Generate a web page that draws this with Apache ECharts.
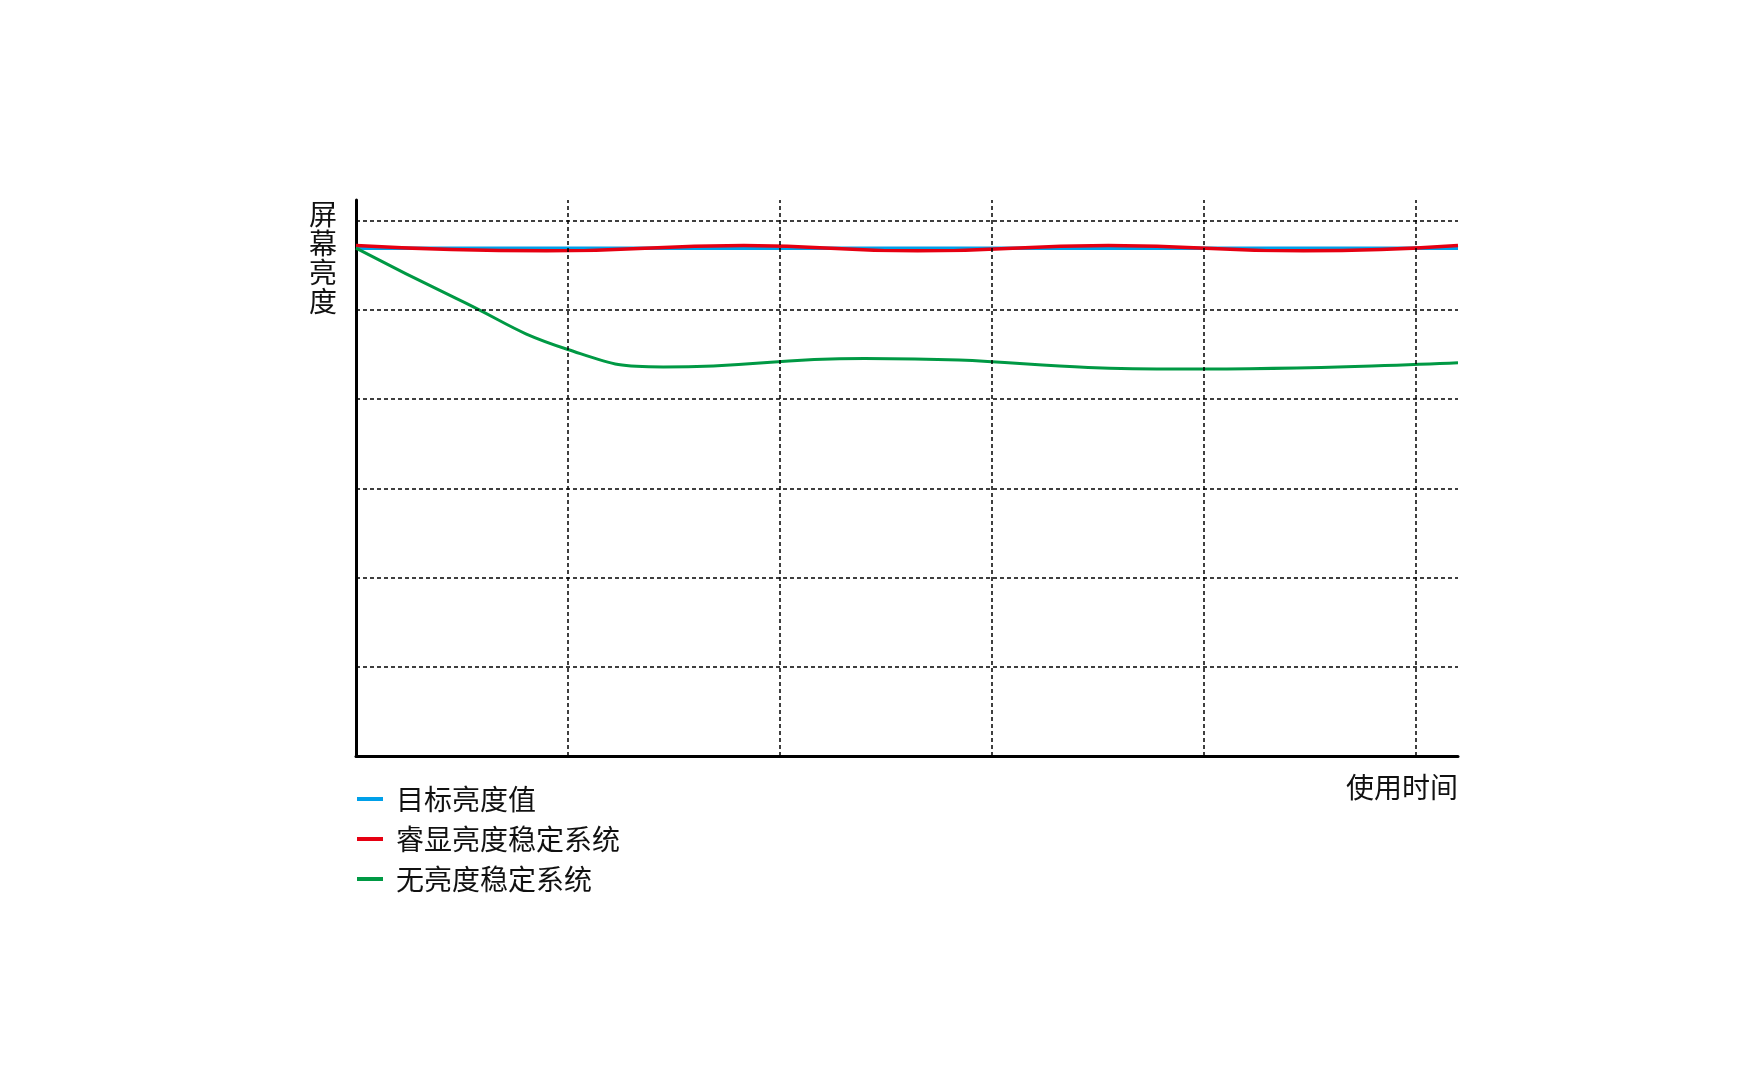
<!DOCTYPE html>
<html>
<head>
<meta charset="utf-8">
<script src="https://cdn.jsdelivr.net/npm/echarts@6/dist/echarts.min.js"></script>
<style>
html,body{margin:0;padding:0;background:#fff;}
#chart{width:1759px;height:1075px;}
</style>
</head>
<body>
<div id="chart"></div>
<script>
// Data (x: usage time units, y: screen brightness units)
const seriesNames = ['目标亮度值', '睿显亮度稳定系统', '无亮度稳定系统'];
const targetX = [0, 5.2];
const targetY = [5.69, 5.69];
const stableX = [0, 0.9, 1.83, 2.65, 3.55, 4.47, 5.2];
const stableY = [5.72, 5.66, 5.72, 5.66, 5.72, 5.66, 5.72];
const plainX = [0, 0.47, 1.0, 1.45, 2.4, 3.9, 5.2];
const plainY = [5.69, 5.13, 4.555, 4.36, 4.455, 4.335, 4.406];
const hGridValues = [1, 2, 3, 4, 5, 6];
const vGridValues = [1, 2, 3, 4, 5];
const yAxisName = '屏幕亮度';
const xAxisName = '使用时间';

const pair = (xs, ys) => xs.map((x, i) => [x, ys[i]]);
const FONT = '"Noto Sans CJK SC", "Noto Sans", sans-serif';
const chart = echarts.init(document.getElementById('chart'), null, {renderer: 'canvas'});

const gridLines = hGridValues.map(v => ({yAxis: v}))
  .concat(vGridValues.map(v => ({xAxis: v})));

chart.setOption({
  animation: false,
  backgroundColor: '#ffffff',
  grid: {left: 356, right: 301, top: 200, bottom: 319, containLabel: false},
  legend: {
    data: seriesNames,
    orient: 'vertical',
    left: 352,
    top: 778,
    icon: 'rect',
    itemWidth: 26,
    itemHeight: 4,
    itemGap: 8,
    selectedMode: false,
    textStyle: {fontFamily: FONT, fontSize: 28, color: '#111', lineHeight: 32, padding: [0, 0, 0, 8]}
  },
  xAxis: {
    type: 'value',
    min: 0,
    max: 5.2,
    interval: 1,
    name: xAxisName,
    nameLocation: 'end',
    nameGap: 0,
    nameTextStyle: {fontFamily: FONT, fontSize: 28, color: '#111', align: 'right', verticalAlign: 'top', padding: [17, 0, 0, 0]},
    axisLine: {show: true, lineStyle: {color: '#000', width: 3}},
    axisTick: {show: false},
    axisLabel: {show: false},
    splitLine: {show: false}
  },
  yAxis: {
    type: 'value',
    min: 0,
    max: 6.23,
    interval: 1,
    name: yAxisName.split('').join('\n'),
    nameLocation: 'end',
    nameGap: 0,
    nameTextStyle: {fontFamily: FONT, fontSize: 28, color: '#111', align: 'right', verticalAlign: 'top', lineHeight: 29, padding: [0, 19, 0, 0]},
    axisLine: {show: true, onZero: false, lineStyle: {color: '#000', width: 3}},
    axisTick: {show: false},
    axisLabel: {show: false},
    splitLine: {show: false}
  },
  series: [
    {
      name: 'grid',
      type: 'line',
      data: [],
      silent: true,
      z: 1,
      markLine: {
        silent: true,
        symbol: ['none', 'none'],
        label: {show: false},
        lineStyle: {color: '#000', width: 1.5, type: [4, 3]},
        emphasis: {disabled: true},
        data: gridLines
      }
    },
    {
      name: seriesNames[0],
      type: 'line',
      data: pair(targetX, targetY),
      showSymbol: false,
      symbol: 'none',
      z: 3,
      lineStyle: {color: '#00a0e9', width: 3.5},
      itemStyle: {color: '#00a0e9'}
    },
    {
      name: seriesNames[1],
      type: 'line',
      data: pair(stableX, stableY),
      smooth: 0.5,
      smoothMonotone: 'x',
      showSymbol: false,
      symbol: 'none',
      z: 4,
      lineStyle: {color: '#e60012', width: 3.5},
      itemStyle: {color: '#e60012'}
    },
    {
      name: seriesNames[2],
      type: 'line',
      data: pair(plainX, plainY),
      smooth: 0.5,
      showSymbol: false,
      symbol: 'none',
      z: 4,
      lineStyle: {color: '#009944', width: 3},
      itemStyle: {color: '#009944'}
    }
  ]
});
</script>
</body>
</html>
